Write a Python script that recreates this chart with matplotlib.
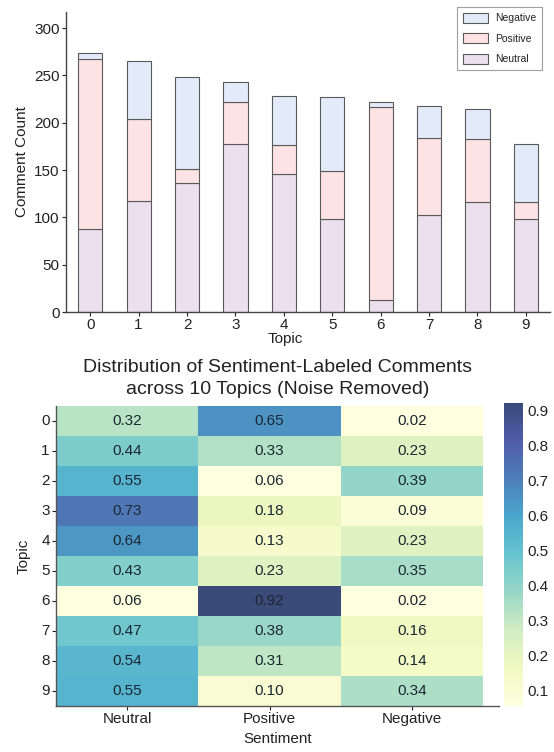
import matplotlib
matplotlib.use("Agg")
import matplotlib.pyplot as plt
import numpy as np
import seaborn as sns

plt.rcParams['font.family'] = ['Liberation Sans', 'DejaVu Sans']

topics = [0, 1, 2, 3, 4, 5, 6, 7, 8, 9]
neutral = [88, 117, 136, 178, 146, 98, 13, 102, 116, 98]
positive = [179, 87, 15, 44, 30, 51, 204, 82, 67, 18]
negative = [7, 61, 97, 21, 52, 78, 5, 34, 31, 61]

sentiments = ["Neutral", "Positive", "Negative"]
prop_neutral = [0.32, 0.44, 0.55, 0.73, 0.64, 0.43, 0.06, 0.47, 0.54, 0.55]
prop_positive = [0.65, 0.33, 0.06, 0.18, 0.13, 0.23, 0.92, 0.38, 0.31, 0.10]
prop_negative = [0.02, 0.23, 0.39, 0.09, 0.23, 0.35, 0.02, 0.16, 0.14, 0.34]

W, H = 554, 752
fig = plt.figure(figsize=(W / 100, H / 100), dpi=100)
fig.patch.set_facecolor('white')

txt = '#222222'
edge = '#5a5a5a'

# ---------- stacked bar chart ----------
ax = fig.add_axes([66 / W, 1 - 312 / H, 484 / W, 300 / H])
x = np.arange(len(topics))
c_neu, c_pos, c_neg = '#ece0ee', '#fde3e3', '#e3eaf9'
ax.bar(x, neutral, width=0.5, color=c_neu, edgecolor=edge, linewidth=0.8, label='Neutral')
ax.bar(x, positive, width=0.5, bottom=neutral, color=c_pos, edgecolor=edge, linewidth=0.8, label='Positive')
bot2 = np.array(neutral) + np.array(positive)
ax.bar(x, negative, width=0.5, bottom=bot2, color=c_neg, edgecolor=edge, linewidth=0.8, label='Negative')
ax.set_xlim(-0.5, 9.5)
ax.set_ylim(0, 317)
ax.set_xticks(x)
ax.set_xticklabels([str(t) for t in topics])
ax.set_yticks([0, 50, 100, 150, 200, 250, 300])
for s in ['top', 'right']:
    ax.spines[s].set_visible(False)
for s in ['left', 'bottom']:
    ax.spines[s].set_color('#444444')
    ax.spines[s].set_linewidth(1.0)
ax.tick_params(axis='both', labelsize=11, colors=txt, length=3, width=0.8, pad=1.5)
ax.set_ylabel('Comment Count', fontsize=11, color=txt, labelpad=4)
ax.set_xlabel('Topic', fontsize=11, color=txt)
ax.xaxis.set_label_coords((285 - 66) / 484, -0.065)
h, l = ax.get_legend_handles_labels()
leg = ax.legend(h[::-1], l[::-1], loc='upper right',
                bbox_to_anchor=(542 / W, 1 - 7 / H), bbox_transform=fig.transFigure,
                borderaxespad=0, fancybox=False, fontsize=7.5, handlelength=2.4,
                handleheight=1.1, labelspacing=0.95, borderpad=0.55, handletextpad=0.7)
leg.get_frame().set_edgecolor('#888888')
leg.get_frame().set_linewidth(0.8)
for t in leg.get_texts():
    t.set_color(txt)

# ---------- heatmap ----------
hax = fig.add_axes([56 / W, 1 - 706 / H, 443 / W, 300 / H])
cax = fig.add_axes([504 / W, 1 - 706 / H, 19 / W, 303 / H])
data = np.column_stack([prop_neutral, prop_positive, prop_negative])
sns.heatmap(data, ax=hax, cbar_ax=cax, cmap='YlGnBu', alpha=0.8, annot=True, fmt='.2f',
            vmin=0.055, vmax=0.922,
            annot_kws={'fontsize': 11, 'color': '#1c2733'},
            xticklabels=sentiments, yticklabels=[str(t) for t in topics])
for t in hax.texts:
    t.set_color('#1c2733')
hax.set_xlim(0, 3.11)
for s in ['left', 'bottom']:
    hax.spines[s].set_visible(True)
    hax.spines[s].set_color('#555555')
    hax.spines[s].set_linewidth(1.0)
hax.tick_params(axis='both', labelsize=11, colors=txt, length=3, width=0.8, pad=1.5)
hax.tick_params(axis='y', rotation=0)
hax.set_xlabel('Sentiment', fontsize=11, color=txt, labelpad=4)
hax.set_ylabel('Topic', fontsize=11, color=txt, labelpad=8)
hax.set_title('Distribution of Sentiment-Labeled Comments\nacross 10 Topics (Noise Removed)',
              fontsize=14, color=txt, pad=9, linespacing=1.35)
cax.tick_params(labelsize=11, colors=txt, length=0, pad=3)
cax.set_yticks([0.1, 0.2, 0.3, 0.4, 0.5, 0.6, 0.7, 0.8, 0.9])
for sp in cax.spines.values():
    sp.set_visible(False)

fig.savefig('out.png', dpi=100)
